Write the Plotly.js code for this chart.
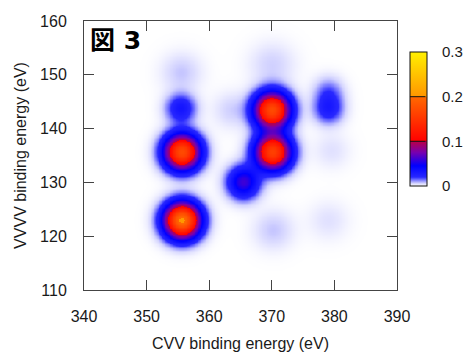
<!DOCTYPE html>
<html>
<head>
<meta charset="utf-8">
<script src="https://cdn.plot.ly/plotly-3.0.1.min.js"></script>
<style>html,body{margin:0;padding:0;background:#fff;}#chart{width:470px;height:352px;}</style>
</head>
<body>
<div id="chart"></div>
<script>
// Peak centres and heights (CVV / VVVV binding energy, eV)
var peakCVV    = [355.6, 355.6, 355.4, 365.4, 370.0, 370.1, 379.0, 379.0, 370.2, 379.0, 355.5, 370.0, 363.5, 379.5];
var peakVVVV   = [123.0, 135.7, 143.8, 130.1, 143.5, 135.7, 146.8, 143.6, 121.2, 123.0, 150.5, 152.0, 143.5, 136.0];
var peakHeight = [0.205, 0.170, 0.032, 0.060, 0.170, 0.160, 0.016, 0.026, 0.007, 0.004, 0.007, 0.006, 0.006, 0.004];
var peakWidthCVV  = [1.9, 1.9, 1.6, 1.7, 1.9, 1.9, 1.6, 1.6, 2.2, 2.2, 2.2, 2.5, 2.0, 2.0];
var peakWidthVVVV = [2.2, 2.2, 1.8, 2.0, 2.2, 2.2, 1.9, 1.8, 2.5, 2.5, 2.5, 2.8, 2.3, 2.3];

var xRange = [340, 390];
var yRange = [110, 160];
var tickX = [340, 350, 360, 370, 380, 390];
var tickY = [110, 120, 130, 140, 150, 160];
var cbTicks = [0, 0.1, 0.2, 0.3];

// grid for the intensity map
var gx = [], gy = [], gz = [];
for (var i = 0; i <= 200; i++) gx.push(340 + i * 0.25);
for (var j = 0; j <= 200; j++) gy.push(110 + j * 0.25);
for (var j = 0; j < gy.length; j++) {
  var row = [];
  for (var i = 0; i < gx.length; i++) {
    var s = 0;
    for (var k = 0; k < peakCVV.length; k++) {
      var dx = (gx[i] - peakCVV[k]) / peakWidthCVV[k];
      var dy = (gy[j] - peakVVVV[k]) / peakWidthVVVV[k];
      s += peakHeight[k] * Math.exp(-0.5 * (dx * dx + dy * dy));
    }
    row.push(s);
  }
  gz.push(row);
}

var cs = [
  [0/0.3, 'rgb(255,255,255)'],
  [0.006/0.3, 'rgb(210,210,255)'],
  [0.02/0.3, 'rgb(40,40,255)'],
  [0.045/0.3, 'rgb(0,0,255)'],
  [0.075/0.3, 'rgb(120,0,175)'],
  [0.0999/0.3, 'rgb(185,0,70)'],
  [0.1/0.3, 'rgb(255,0,0)'],
  [0.1999/0.3, 'rgb(255,105,0)'],
  [0.2/0.3, 'rgb(255,150,0)'],
  [1, 'rgb(255,240,0)']
];

var font = {family: 'Liberation Sans, Arial, sans-serif', size: 16, color: '#1a1a1a'};

var trace = {
  type: 'heatmap', x: gx, y: gy, z: gz, zmin: 0, zmax: 0.3,
  zsmooth: 'best', colorscale: cs,
  colorbar: {
    x: 1.0415, xanchor: 'left', xpad: 0,
    y: 0.6357, yanchor: 'middle', ypad: 0,
    thickness: 17, lenmode: 'pixels', len: 134,
    outlinewidth: 1, outlinecolor: '#111',
    tickvals: cbTicks, ticktext: cbTicks.map(String),
    ticks: 'outside', ticklen: 12, tickcolor: 'rgba(0,0,0,0)',
    tickfont: {family: font.family, size: 15, color: '#1a1a1a'}
  },
  hoverinfo: 'skip'
};

var axisCommon = {
  showgrid: false, zeroline: false, showline: true, mirror: 'ticks',
  linecolor: '#444', linewidth: 1, ticks: 'inside', ticklen: 10,
  tickcolor: '#444', tickwidth: 1, tickfont: font, automargin: false
};

var layout = {
  width: 470, height: 352,
  margin: {l: 84, r: 73, t: 21, b: 62, autoexpand: false},
  paper_bgcolor: '#fff', plot_bgcolor: '#fff',
  font: font,
  xaxis: Object.assign({}, axisCommon, {
    range: xRange, tickvals: tickX, ticktext: tickX.map(String), ticklabelstandoff: 12,
    title: {text: 'CVV binding energy (eV)', font: font, standoff: 16}
  }),
  yaxis: Object.assign({}, axisCommon, {
    range: yRange, tickvals: tickY, ticktext: tickY.map(String), ticklabelstandoff: 13,
    title: {text: 'VVVV binding energy (eV)', font: font, standoff: 9}
  }),
  annotations: [
    {xref: 'paper', yref: 'paper', x: 0.012, y: 0.99, xanchor: 'left', yanchor: 'top',
     text: '<b>図 3</b>', showarrow: false,
     font: {family: 'DejaVu Sans, Noto Sans CJK JP, sans-serif', size: 25, color: '#000'}},
    {xref: 'paper', yref: 'paper', x: 1.0415, y: 0.5528, ax: 17, ay: 0, axref: 'pixel', ayref: 'pixel',
     text: '', showarrow: true, arrowhead: 0, arrowwidth: 1, arrowcolor: '#111', standoff: 0, startstandoff: 0},
    {xref: 'paper', yref: 'paper', x: 1.0415, y: 0.7186, ax: 17, ay: 0, axref: 'pixel', ayref: 'pixel',
     text: '', showarrow: true, arrowhead: 0, arrowwidth: 1, arrowcolor: '#111', standoff: 0, startstandoff: 0}
  ]
};

Plotly.newPlot('chart', [trace], layout, {staticPlot: true, displayModeBar: false});
</script>
</body>
</html>
